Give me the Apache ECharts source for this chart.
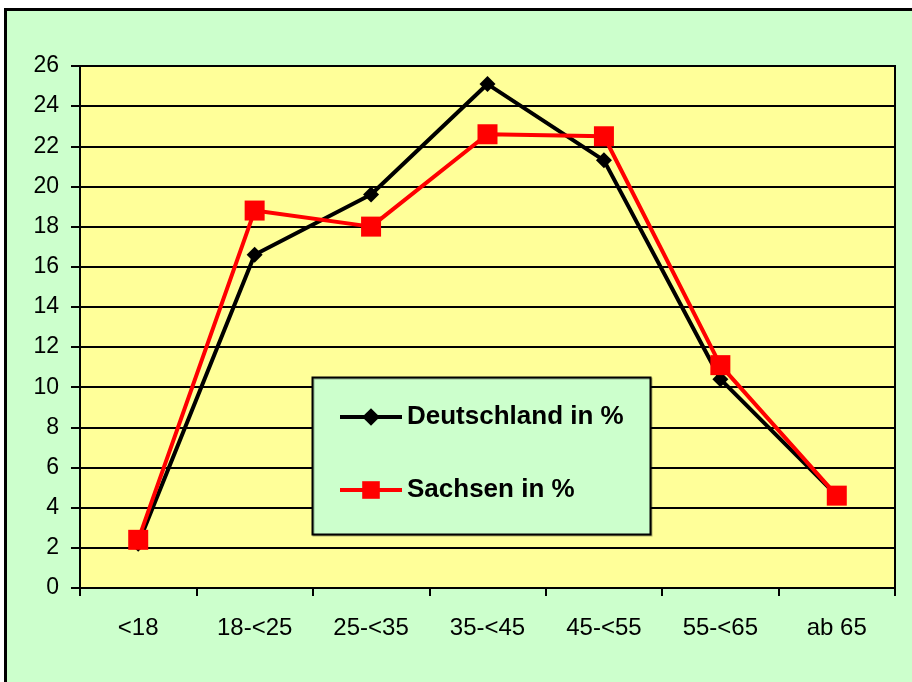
<!DOCTYPE html>
<html>
<head>
<meta charset="utf-8">
<script src="https://cdn.jsdelivr.net/npm/echarts@6/dist/echarts.min.js"></script>
<style>
  html, body { margin: 0; padding: 0; background: #fff; }
  #chart { width: 912px; height: 682px; }
</style>
</head>
<body>
<div id="chart"></div>
<script>
// Altersgruppen
const categories = ["<18", "18-<25", "25-<35", "35-<45", "45-<55", "55-<65", "ab 65"];
const deutschland = [2.2, 16.6, 19.6, 25.1, 21.3, 10.4, 4.6];
const sachsen = [2.4, 18.8, 18.0, 22.6, 22.5, 11.1, 4.6];
const seriesNames = ["Deutschland in %", "Sachsen in %"];

const font = "Liberation Sans, Arial, sans-serif";

const chart = echarts.init(document.getElementById("chart"), null, { renderer: "canvas" });

const options = {
  animation: false,
  backgroundColor: "#fff",
  graphic: [
    {
      // aeusserer Rahmen
      type: "rect",
      z: -10,
      silent: true,
      shape: { x: 5.5, y: 9.5, width: 1000, height: 1000 },
      style: { fill: "#CCFFCC", stroke: "#000", lineWidth: 3 },
    },
    {
      // Legendenkasten
      type: "rect",
      z: 50,
      silent: true,
      shape: { x: 312.5, y: 377.5, width: 338, height: 157 },
      style: { fill: "#CCFFCC", stroke: "#000", lineWidth: 2, shadowColor: "rgba(0,0,0,0.3)", shadowOffsetX: 1, shadowOffsetY: 1 },
    },
  ],
  grid: {
    left: 80,
    right: 17,
    top: 66,
    bottom: 94,
    show: true,
    backgroundColor: "#FFFF99",
    borderColor: "#000",
    borderWidth: 2,
  },
  legend: {
    z: 60,
    left: 338,
    top: 404,
    padding: 0,
    orient: "vertical",
    itemGap: 47,
    itemWidth: 62,
    itemHeight: 22,
    data: seriesNames,
    lineStyle: { width: 4 },
    textStyle: { fontFamily: font, fontSize: 26, fontWeight: "bold", color: "#000", lineHeight: 26 },
  },
  xAxis: {
    type: "category",
    data: categories,
    boundaryGap: true,
    axisLine: { lineStyle: { color: "#000", width: 2 } },
    axisTick: { show: true, length: 8, lineStyle: { color: "#000", width: 2 } },
    axisLabel: { fontFamily: font, fontSize: 24, color: "#000", margin: 28 },
    splitLine: { show: false },
  },
  yAxis: {
    type: "value",
    min: 0,
    max: 26,
    interval: 2,
    axisLine: { show: true, lineStyle: { color: "#000", width: 2 } },
    axisTick: { show: true, length: 9, lineStyle: { color: "#000", width: 2 } },
    axisLabel: { fontFamily: font, fontSize: 23, color: "#000", margin: 21 },
    splitLine: { show: true, lineStyle: { color: "#000", width: 2 } },
  },
  series: [
    {
      name: seriesNames[0],
      type: "line",
      data: deutschland,
      symbol: "diamond",
      symbolSize: 16,
      showAllSymbol: true,
      lineStyle: { color: "#000", width: 4 },
      itemStyle: { color: "#000", borderWidth: 0 },
      z: 3,
    },
    {
      name: seriesNames[1],
      type: "line",
      data: sachsen,
      symbol: "rect",
      symbolSize: 20,
      showAllSymbol: true,
      lineStyle: { color: "#FF0000", width: 4 },
      itemStyle: { color: "#FF0000", borderWidth: 0 },
      z: 4,
    },
  ],
};

chart.setOption(options);
window.addEventListener("resize", () => chart.resize());
</script>
</body>
</html>
